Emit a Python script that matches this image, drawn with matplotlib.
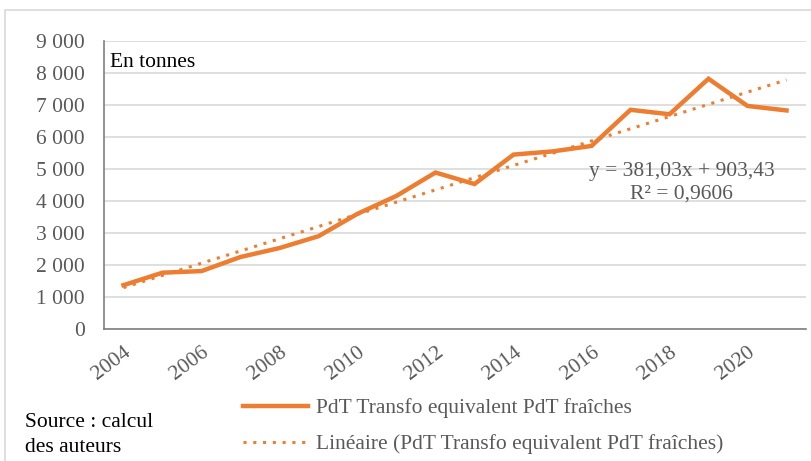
import matplotlib.pyplot as plt
import numpy as np
from matplotlib.patches import Rectangle

years = list(range(2004, 2022))
values = [1370, 1760, 1810, 2250, 2530, 2900, 3600, 4160, 4890, 4530,
          5450, 5550, 5720, 6850, 6710, 7820, 6970, 6830]
yticks = [0, 1000, 2000, 3000, 4000, 5000, 6000, 7000, 8000, 9000]
ytick_labels = ["0", "1 000", "2 000", "3 000", "4 000", "5 000",
                "6 000", "7 000", "8 000", "9 000"]
xtick_years = list(range(2004, 2021, 2))

orange = "#ED7D31"
grey = "#595959"
fs = 15.5
plt.rcParams['font.family'] = ['Liberation Serif', 'DejaVu Serif']

fig = plt.figure(figsize=(8.12, 4.61), dpi=100)
fig.patches.append(Rectangle((5/812, -0.1), 1.0, 1 - 10/461 + 0.1, transform=fig.transFigure,
                             fill=False, edgecolor="#D9D9D9", lw=1.2))
ax = fig.add_axes([104/812, 1 - 329/461, 702/812, 288/461])

x = np.arange(len(years))
ax.plot(x, values, color=orange, lw=3.2, solid_joinstyle='miter',
        label="PdT Transfo equivalent PdT fraîches")
# linear trend, x = 1..18 like Excel
coef = np.polyfit(x + 1, values, 1)
trend = np.polyval(coef, x + 1)
ax.plot(x, trend, color=orange, lw=2.2, linestyle=(0, (1, 2.2)),
        label="Linéaire (PdT Transfo equivalent PdT fraîches)")

ax.set_xlim(-0.5, len(years) - 0.5)
ax.set_ylim(0, 9000)
ax.set_yticks(yticks)
ax.set_yticklabels(ytick_labels, fontsize=fs, color=grey)
ax.set_xticks([years.index(y) for y in xtick_years])
ax.set_xticklabels([str(y) for y in xtick_years], fontsize=fs, color=grey,
                   rotation=37, ha='right', rotation_mode='anchor')
ax.tick_params(axis='y', length=0, pad=14)
ax.tick_params(axis='x', length=0, pad=10)
ax.grid(axis='y', color="#D9D9D9", lw=1.2)
ax.set_axisbelow(True)
for s in ['top', 'right']:
    ax.spines[s].set_visible(False)
for s in ['left', 'bottom']:
    ax.spines[s].set_color("#7F7F7F")
    ax.spines[s].set_linewidth(1.2)

ax.text(0.008, 0.96, "En tonnes", transform=ax.transAxes, fontsize=fs,
        color="black", va='top', ha='left')
ax.text(0.823, 0.508, "y = 381,03x + 903,43\nR² = 0,9606", transform=ax.transAxes,
        fontsize=fs, color=grey, ha='center', va='center', linespacing=1.25)

fig.legend(loc='upper left', bbox_to_anchor=(228/812, 1 - 383/461), frameon=False,
           fontsize=fs, labelcolor=grey, handlelength=3.0, labelspacing=0.75,
           handletextpad=0.4, borderpad=0.2)
fig.text(25/812, 1 - 435/461, "Source : calcul\ndes auteurs", fontsize=fs,
         color="black", va='center', ha='left', linespacing=1.45)

fig.savefig("out.png", dpi=100)
